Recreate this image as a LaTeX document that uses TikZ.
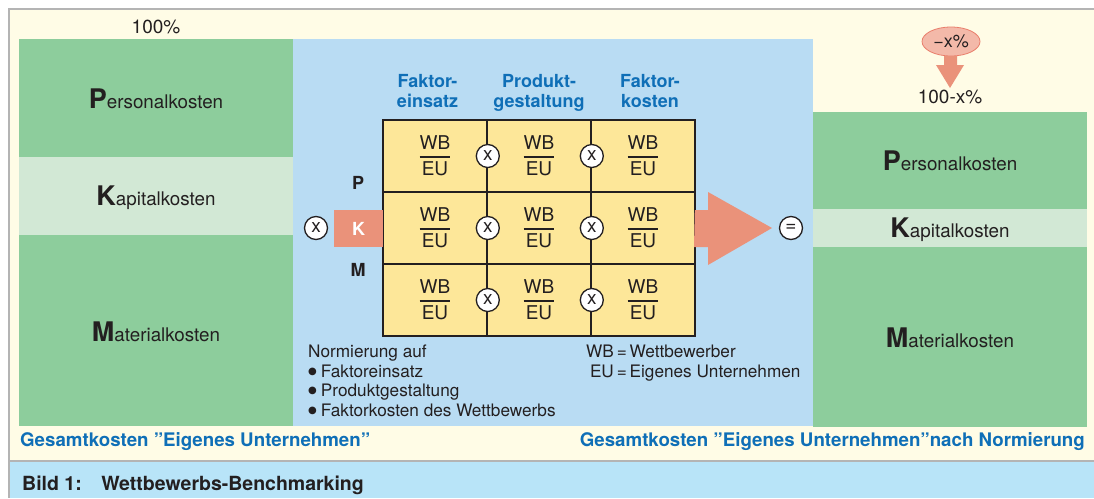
\documentclass[tikz,border=0pt]{standalone}
\usepackage{fontspec}
\setmainfont{TeX Gyre Heros}
\newfontfamily\symbole{DejaVu Sans}
\usepackage{amsmath}
\usetikzlibrary{shapes.geometric}

\definecolor{creme}{HTML}{FFFCE6}
\definecolor{rahmen}{HTML}{B4B4B4}
\definecolor{bildleiste}{HTML}{B8E4F8}
\definecolor{panelblau}{HTML}{B9DCF3}
\definecolor{gruen}{HTML}{8DCD9C}
\definecolor{hellgruen}{HTML}{D2E8D5}
\definecolor{gelb}{HTML}{FDE799}
\definecolor{lachs}{HTML}{EA927A}
\definecolor{lachshell}{HTML}{F3B9A9}
\definecolor{lachsrand}{HTML}{E97E6B}
\definecolor{titelblau}{HTML}{0F6FB7}
\definecolor{schrift}{HTML}{231F20}

\newcommand{\groesse}[1]{\fontsize{#1}{#1}\selectfont}
\newcommand{\kostenart}[2]{{\groesse{27}\bfseries #1}#2}
\newcommand{\wbeu}{$\genfrac{}{}{1.5pt}{0}{\text{WB}}{\text{EU}}$}
\newcommand{\punkt}{\raisebox{3pt}{\symbole\fontsize{10}{0}\selectfont ●}\hspace{4pt}}

\tikzset{
  kostenfeld/.style={anchor=base, inner sep=0, text=schrift, font=\groesse{18.8}},
  kopf/.style={anchor=north, inner sep=0, align=center, text=titelblau,
    font=\fontsize{18}{20}\selectfont\bfseries},
  zelle/.style={draw=schrift, line width=1.6pt, fill=gelb, minimum width=104,
    minimum height=72, inner sep=0, text=schrift, font=\groesse{19}},
  mal/.style={circle, draw=schrift, line width=1.3pt, fill=white, minimum size=23,
    inner sep=0, text=schrift, font=\groesse{19}},
  zeile/.style={inner sep=0, text=schrift, font=\groesse{18}\bfseries},
  legende/.style={anchor=north west, inner sep=0, text=schrift,
    font=\fontsize{17.2}{19.5}\selectfont},
  fusszeile/.style={anchor=base, inner sep=0, text=titelblau, font=\groesse{18.7}\bfseries}
}

\begin{document}
\begin{tikzpicture}[x=1pt, y=-1pt]
        \useasboundingbox (0,0) rectangle (1094,498);

        % Hintergrund, Rahmen und Bildleiste
        \fill[white] (0,0) rectangle (1094,498);
        \fill[creme] (9,9) rectangle (1094,461);
        \fill[bildleiste] (9,461) rectangle (1094,498);
        \draw[rahmen, line width=1.5pt] (1094,9) -- (9,9) -- (9,498);
        \draw[rahmen, line width=1.5pt] (9,461) -- (1094,461);

        % Gesamtkosten vorher (100%)
        \fill[gruen] (19,39) rectangle (293,157);
        \fill[hellgruen] (19,157) rectangle (293,235);
        \fill[gruen] (19,235) rectangle (293,426);
        \node[kostenfeld, font=\groesse{19}] (hundert) at (156,33.3) {100\%};
        \node[kostenfeld] (pkl) at (156,108) {\kostenart{P}{ersonalkosten}};
        \node[kostenfeld] (kkl) at (156,205) {\kostenart{K}{apitalkosten}};
        \node[kostenfeld] (mkl) at (156,341) {\kostenart{M}{aterialkosten}};

        % Normierungsfeld
        \fill[panelblau] (293,39) rectangle (813,426);
        \node[kopf] (kopfa) at (427.5,74) {Faktor-\\einsatz};
        \node[kopf] (kopfb) at (539,74) {Produkt-\\gestaltung};
        \node[kopf] (kopfc) at (650,74) {Faktor-\\kosten};

        % Matrix WB/EU
        \foreach \r/\y in {p/156, k/228, m/300} {
          \node[zelle] (\r a) at (435,\y) {\wbeu};
          \node[zelle] (\r b) at (539,\y) {\wbeu};
          \node[zelle] (\r c) at (643,\y) {\wbeu};
          \node[mal] (\r ab) at (\r a.east) {x};
          \node[mal] (\r bc) at (\r b.east) {x};
        }

        % Zeilen P, K, M
        \node[zeile] (zp) at (358,183) {P};
        \node[zeile] (zm) at (358,270) {M};
        \node[fill=lachs, minimum width=49, minimum height=37, inner sep=0,
          text=white, font=\groesse{18}\bfseries] (zk) at (358.5,228.5) {K};
        \node[mal] (malk) at (316,228) {x};

        % Pfeil zum Ergebnis
        \fill[lachs] (ka.west -| kc.east) ++(-1,-18) -- (708,210) -- (708,192)
          -- (772,228) -- (708,265) -- (708,247) -- (694,247) -- cycle;
        \node[mal] (gleich) at (791,228) {=};

        % Legende
        \node[legende] (normierung) at (308,344)
          {\begin{tabular}{@{}l@{}}
            Normierung auf\\
            \punkt Faktoreinsatz\\
            \punkt Produktgestaltung\\
            \punkt Faktorkosten des Wettbewerbs
          \end{tabular}};
        \node[legende] (abk) at (586,344)
          {\begin{tabular}{@{}r@{\,=\,}l@{}}
            WB & Wettbewerber\\
            EU & Eigenes Unternehmen
          \end{tabular}};

        % Gesamtkosten nach Normierung (100-x%)
        \fill[gruen] (813,112) rectangle (1087,209);
        \fill[hellgruen] (813,209) rectangle (1087,247);
        \fill[gruen] (813,247) rectangle (1087,427);
        \node[ellipse, draw=lachsrand, line width=0.8pt, fill=lachshell, minimum width=58,
          minimum height=29, inner sep=0, text=schrift, font=\groesse{18}] (abzug) at (951,41.5) {−x\%};
        \fill[lachs] (944,56) -- (957,56) -- (957,65) -- (964,65) -- (950,88)
          -- (936,65) -- (944,65) -- cycle;
        \node[kostenfeld, font=\groesse{19}] (rest) at (950,103.3) {100-x\%};
        \node[kostenfeld] (pkr) at (950,170) {\kostenart{P}{ersonalkosten}};
        \node[kostenfeld] (kkr) at (950,237) {\kostenart{K}{apitalkosten}};
        \node[kostenfeld] (mkr) at (950,347) {\kostenart{M}{aterialkosten}};

        % Fusszeilen
        \node[fusszeile, anchor=base west] (fussl) at (20,446.5)
          {Gesamtkosten ”Eigenes Unternehmen”};
        \node[fusszeile, anchor=base east] (fussr) at (1085,446.5)
          {Gesamtkosten ”Eigenes Unternehmen”nach Normierung};
        \node[fusszeile, anchor=base west, text=schrift, font=\groesse{19.5}\bfseries] (bild) at (22,490)
          {Bild 1:\quad Wettbewerbs-Benchmarking};
    \end{tikzpicture}
\end{document}
